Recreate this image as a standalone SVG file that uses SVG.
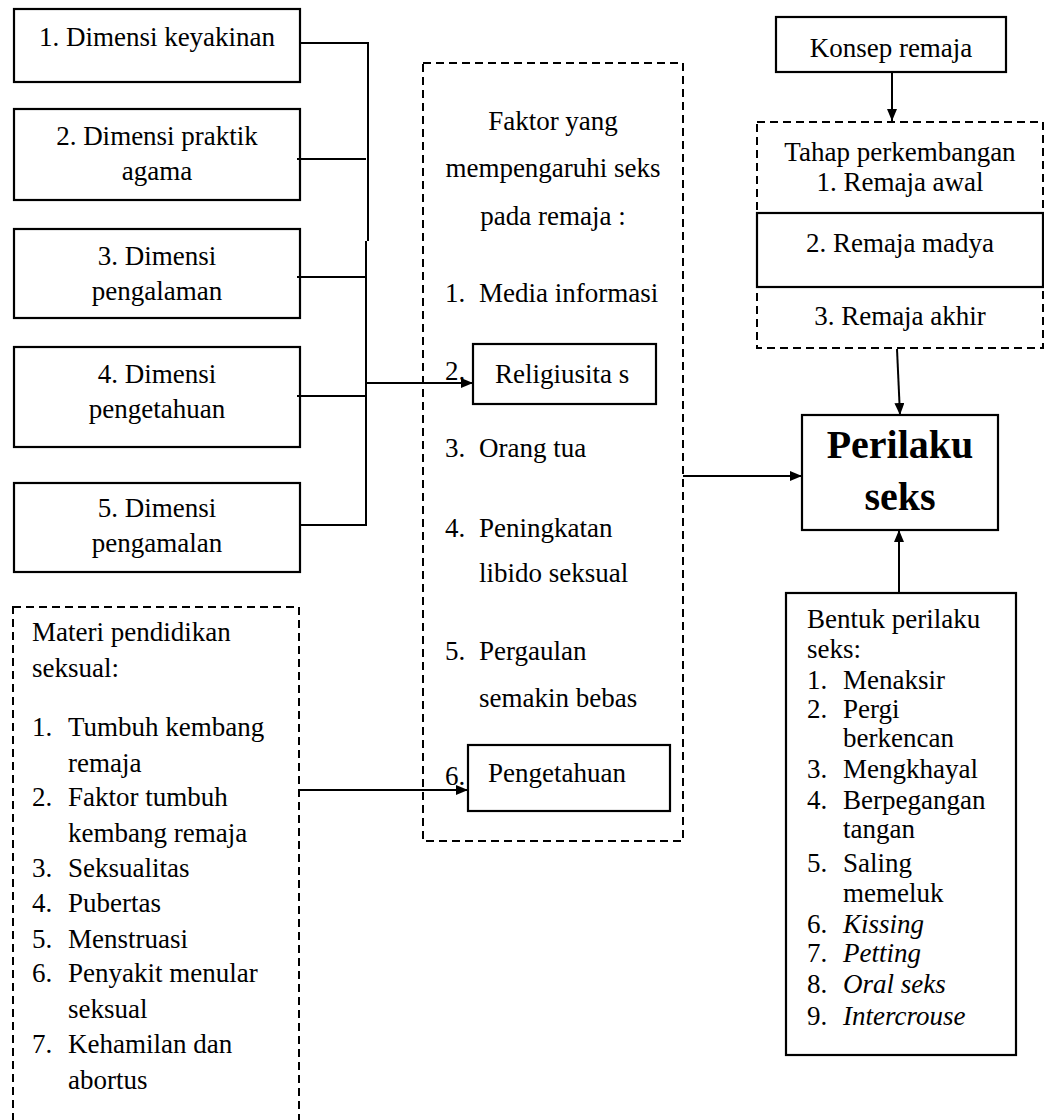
<svg xmlns="http://www.w3.org/2000/svg" width="1044" height="1120" viewBox="0 0 1044 1120">
<style>
text{font-family:'Liberation Serif','Times New Roman','DejaVu Serif',serif;font-size:27px;fill:#000}
.c{text-anchor:middle}
.box{fill:#fff;stroke:#000;stroke-width:2.2}
.dash{fill:none;stroke:#000;stroke-width:2;stroke-dasharray:8 5}
.ln{fill:none;stroke:#000;stroke-width:2}
.b{font-weight:bold;font-size:40px}
.i{font-style:italic}
</style>
<defs>
<marker id="ah" viewBox="0 0 12 10" refX="12" refY="5" markerWidth="12" markerHeight="10" markerUnits="userSpaceOnUse" orient="auto">
<path d="M0,0 L12,5 L0,10 z" fill="#000"/>
</marker>
</defs>
<rect width="1044" height="1120" fill="#fff"/>
<g font-family="Liberation Serif, serif">
<g id="dim1"><rect class="box" x="14" y="9" width="286" height="73"/><text class="c" x="157" y="46">1. Dimensi keyakinan</text></g>
<g id="dim2"><rect class="box" x="14" y="109" width="286" height="91"/><text class="c" x="157" y="145">2. Dimensi praktik</text><text class="c" x="157" y="180">agama</text></g>
<g id="dim3"><rect class="box" x="14" y="229" width="286" height="89"/><text class="c" x="157" y="265">3. Dimensi</text><text class="c" x="157" y="300">pengalaman</text></g>
<g id="dim4"><rect class="box" x="14" y="347" width="286" height="100"/><text class="c" x="157" y="383">4. Dimensi</text><text class="c" x="157" y="418">pengetahuan</text></g>
<g id="dim5"><rect class="box" x="14" y="483" width="286" height="89"/><text class="c" x="157" y="517">5. Dimensi</text><text class="c" x="157" y="552">pengamalan</text></g>

<g id="materi">
<rect class="dash" x="13" y="607" width="286" height="530"/>
<text x="32" y="641">Materi pendidikan</text>
<text x="32" y="677">seksual:</text>
<text x="32" y="736">1.</text><text x="68" y="736">Tumbuh kembang</text>
<text x="68" y="772">remaja</text>
<text x="32" y="806">2.</text><text x="68" y="806">Faktor tumbuh</text>
<text x="68" y="842">kembang remaja</text>
<text x="32" y="877">3.</text><text x="68" y="877">Seksualitas</text>
<text x="32" y="912">4.</text><text x="68" y="912">Pubertas</text>
<text x="32" y="948">5.</text><text x="68" y="948">Menstruasi</text>
<text x="32" y="982">6.</text><text x="68" y="982">Penyakit menular</text>
<text x="68" y="1018">seksual</text>
<text x="32" y="1053">7.</text><text x="68" y="1053">Kehamilan dan</text>
<text x="68" y="1089">abortus</text>
</g>

<g id="faktor">
<rect class="dash" x="423" y="63" width="260" height="778"/>
<text class="c" x="553" y="130">Faktor yang</text>
<text class="c" x="553" y="177">mempengaruhi seks</text>
<text class="c" x="553" y="225">pada remaja :</text>
<text x="445" y="302">1.</text><text x="479" y="302">Media informasi</text>
<text x="445" y="380">2.</text>
<text x="445" y="457">3.</text><text x="479" y="457">Orang tua</text>
<text x="445" y="537">4.</text><text x="479" y="537">Peningkatan</text>
<text x="479" y="582">libido seksual</text>
<text x="445" y="660">5.</text><text x="479" y="660">Pergaulan</text>
<text x="479" y="707">semakin bebas</text>
<text x="445" y="785">6.</text>
</g>
<g id="religiusitas"><rect class="box" x="473" y="344" width="183" height="60"/><text x="495" y="383">Religiusita s</text></g>
<g id="pengetahuan"><rect class="box" x="468" y="745" width="202" height="66"/><text x="488" y="782">Pengetahuan</text></g>

<g id="konsep"><rect class="box" x="776" y="17" width="230" height="55"/><text class="c" x="891" y="57">Konsep remaja</text></g>
<g id="tahap">
<rect class="dash" x="757" y="122" width="286" height="226"/>
<text class="c" x="900" y="161">Tahap perkembangan</text>
<text class="c" x="900" y="191">1. Remaja awal</text>
<rect class="box" x="757" y="213" width="286" height="74"/>
<text class="c" x="900" y="252">2. Remaja madya</text>
<text class="c" x="900" y="325">3. Remaja akhir</text>
</g>
<g id="perilaku"><rect class="box" x="802" y="415" width="196" height="115"/><text class="c b" x="900" y="458">Perilaku</text><text class="c b" x="900" y="510">seks</text></g>
<g id="bentuk">
<rect class="box" x="786" y="593" width="230" height="462"/>
<text x="807" y="628">Bentuk perilaku</text>
<text x="807" y="658">seks:</text>
<text x="807" y="689">1.</text><text x="843" y="689">Menaksir</text>
<text x="807" y="718">2.</text><text x="843" y="718">Pergi</text>
<text x="843" y="747">berkencan</text>
<text x="807" y="778">3.</text><text x="843" y="778">Mengkhayal</text>
<text x="807" y="809">4.</text><text x="843" y="809">Berpegangan</text>
<text x="843" y="838">tangan</text>
<text x="807" y="872">5.</text><text x="843" y="872">Saling</text>
<text x="843" y="902">memeluk</text>
<text x="807" y="933">6.</text><text class="i" x="843" y="933">Kissing</text>
<text x="807" y="962">7.</text><text class="i" x="843" y="962">Petting</text>
<text x="807" y="993">8.</text><text class="i" x="843" y="993">Oral seks</text>
<text x="807" y="1025">9.</text><text class="i" x="843" y="1025">Intercrouse</text>
</g>
</g>
<g id="connectors">
<path class="ln" d="M300,43 H368 V241"/>
<path class="ln" d="M366,241 V525 H300"/>
<path class="ln" d="M297,159 H366"/>
<path class="ln" d="M297,277 H366"/>
<path class="ln" d="M297,396 H366"/>
<path class="ln" d="M366,383 H473" marker-end="url(#ah)"/>
<path class="ln" d="M299,790 H468" marker-end="url(#ah)"/>
<path class="ln" d="M683,476 H802" marker-end="url(#ah)"/>
<path class="ln" d="M892,72 L892,121" marker-end="url(#ah)"/>
<path class="ln" d="M897,349 L900,415" marker-end="url(#ah)"/>
<path class="ln" d="M899,593 V530" marker-end="url(#ah)"/>
</g>
</svg>
